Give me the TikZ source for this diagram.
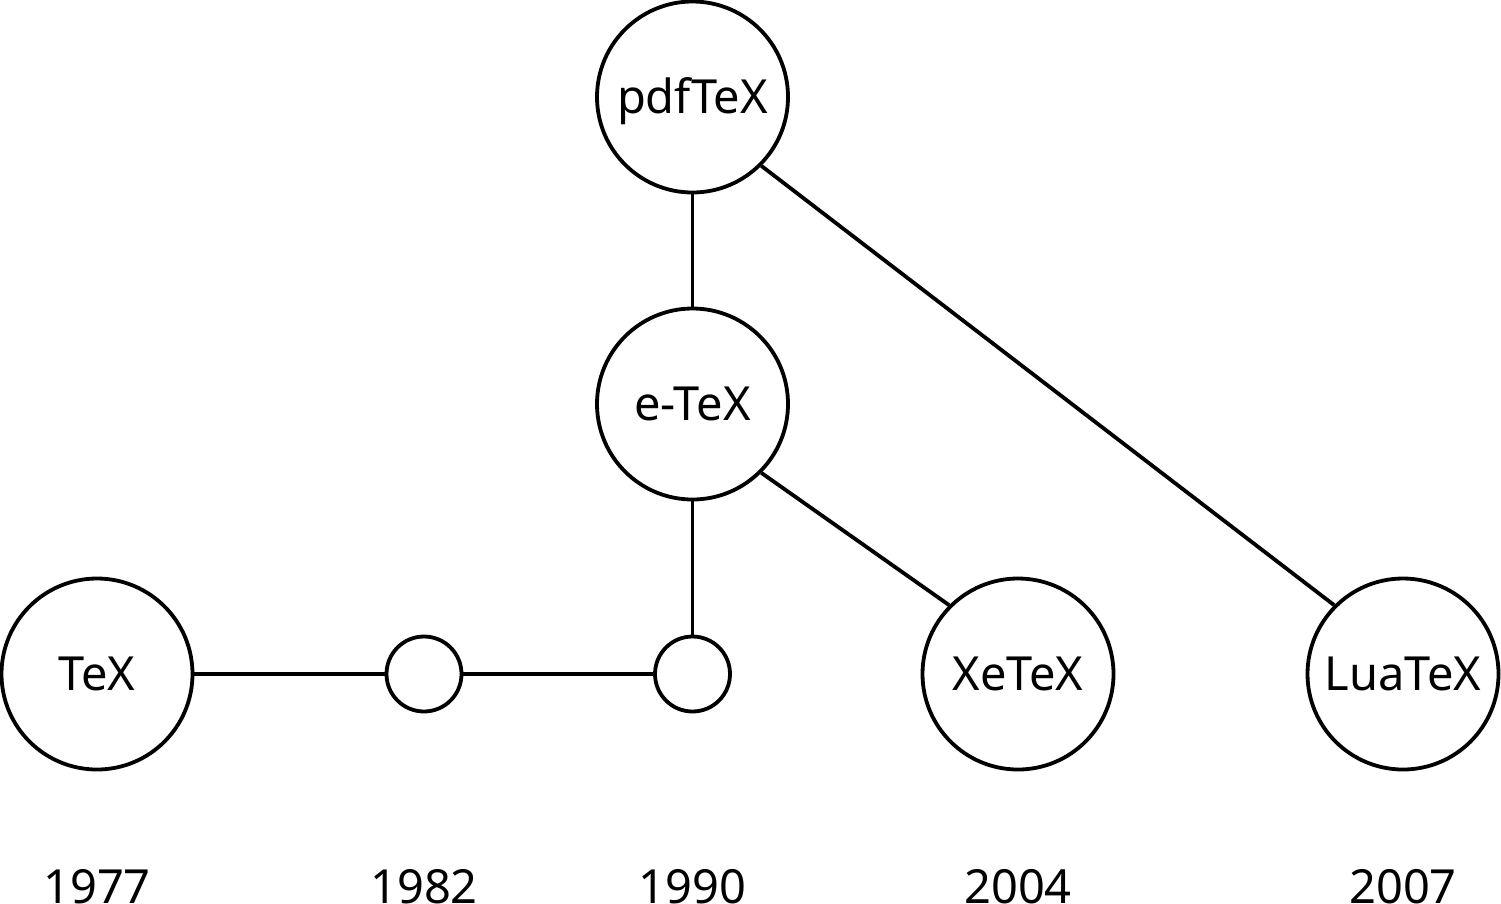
\documentclass[tikz,border=0pt]{standalone}
\usepackage{fontspec}
\setmainfont{Noto Sans}
\begin{document}
\begin{tikzpicture}[x=1pt,y=-1pt,
  big/.style={circle,draw,line width=3.8pt,minimum size=191pt,inner sep=0pt,
    font=\fontsize{47}{50}\selectfont,text height=33.5pt,text depth=0pt},
  small/.style={circle,draw,line width=3.8pt,minimum size=75pt,inner sep=0pt},
  year/.style={anchor=base,font=\fontsize{47}{50}\selectfont,inner sep=0pt},
  link/.style={line width=3.8pt}]
\useasboundingbox (0,0) rectangle (1501,903);
\node[big] (tex) at (97,674) {TeX};
\node[small] (s82) at (424,674) {};
\node[small] (s90) at (692.5,674) {};
\node[big] (xetex) at (1018,674) {XeTeX};
\node[big] (luatex) at (1403,674) {LuaTeX};
\node[big] (etex) at (692.5,404) {e-TeX};
\node[big] (pdftex) at (692.5,97) {pdfTeX};
\node[year] (y77) at (97,903) {1977};
\node[year] (y82) at (424,903) {1982};
\node[year] (y90) at (692.5,903) {1990};
\node[year] (y04) at (1018,903) {2004};
\node[year] (y07) at (1403,903) {2007};
\draw[link] (tex) -- (s82);
\draw[link] (s82) -- (s90);
\draw[link] (s90) -- (etex);
\draw[link] (etex) -- (pdftex);
\draw[link] (etex.south east) -- (xetex.north west);
\draw[link] (pdftex.south east) -- (luatex.north west);
\end{tikzpicture}
\end{document}
